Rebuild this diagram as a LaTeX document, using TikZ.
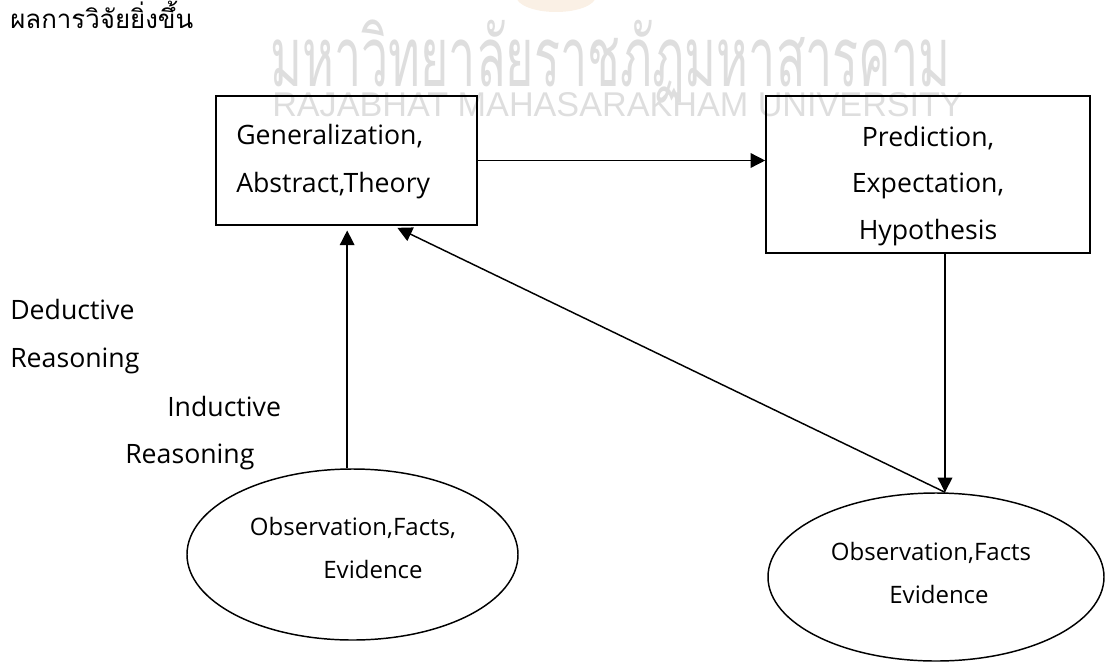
\documentclass[tikz,border=0pt]{standalone}
\usepackage{fontspec}
\usepackage{graphicx}
\setmainfont{Open Sans}
\newfontfamily\thaifont[Script=Thai]{Loma}
\newfontfamily\wmfont{Liberation Sans}
\usetikzlibrary{arrows.meta,shapes.geometric}
\definecolor{wmgray}{gray}{0.87}
\definecolor{logotan}{rgb}{0.98,0.94,0.90}
\begin{document}
\begin{tikzpicture}[x=0.75pt,y=-0.75pt,
  boxst/.style={draw, line width=1.2pt, inner sep=0pt},
  ellst/.style={draw, ellipse, line width=1.1pt, inner sep=0pt},
  lbl/.style={anchor=base west, inner sep=0pt, font=\fontsize{20}{24}\selectfont},
  ctr/.style={anchor=base, inner sep=0pt, font=\fontsize{20}{24}\selectfont},
  ectr/.style={anchor=base, inner sep=0pt, font=\fontsize{18}{22}\selectfont},
  arr/.style={line width=1.1pt, -{Triangle[length=11pt,width=11pt]}},
  wm/.style={anchor=base west, inner sep=0pt, text=wmgray}
]
\useasboundingbox (0,0) rectangle (1106,664);
% faint logo fragment and watermark
\begin{scope}
\clip (0,0) rectangle (1106,664);
\fill[logotan] (556,-4) ellipse [x radius=30pt, y radius=12pt];
\end{scope}
\node[wm] (wm1) at (270,86) {\resizebox{510pt}{50pt}{\thaifont มหาวิทยาลัยราชภัฏมหาสารคาม}};
\node[wm] (wm2) at (272,116) {\resizebox{518pt}{18pt}{\wmfont RAJABHAT MAHASARAKHAM UNIVERSITY}};
% header
\node[anchor=base west, inner sep=0pt] (hdr) at (10,28) {\resizebox{137.25pt}{!}{\thaifont ผลการวิจัยยิ่งขึ้น}};
% shapes
\node[boxst, minimum width=195.75pt, minimum height=96.75pt] (lbox) at (346.5,160.5) {};
\node[boxst, minimum width=243pt, minimum height=117.75pt] (rbox) at (928,174.5) {};
\node[ellst, minimum width=248.25pt, minimum height=128.25pt] (lell) at (352.5,554.5) {};
\node[ellst, minimum width=252pt, minimum height=126pt] (rell) at (936,577) {};
% texts
\node[lbl] (gen) at (236,144) {Generalization,};
\node[lbl] (abs) at (236,192) {Abstract,Theory};
\node[ctr] (pred) at (928,146) {Prediction,};
\node[ctr] (expe) at (928,192) {Expectation,};
\node[ctr] (hyp) at (928,239) {Hypothesis};
\node[ectr] (lobs) at (353,535) {Observation,Facts,};
\node[ectr] (lev) at (373,578) {Evidence};
\node[ectr] (robs) at (931,560) {Observation,Facts};
\node[ectr] (rev) at (939,603) {Evidence};
\node[lbl] (ded1) at (10,319) {Deductive};
\node[lbl] (ded2) at (10,367) {Reasoning};
\node[lbl] (ind1) at (167,416) {Inductive};
\node[lbl] (ind2) at (125,463) {Reasoning};
% connectors
\draw[arr] (lbox.east) -- (lbox.east -| rbox.west);
\draw[arr, shorten >=3.5pt] ([xshift=-4pt]lell.north) -- ([xshift=-4pt]lell.north |- lbox.south);
\draw[arr] ([xshift=12.75pt]rbox.south) -- ([xshift=12.75pt]rbox.south |- rell.north);
\draw[arr, shorten >=3.5pt] ([xshift=12.75pt]rbox.south |- rell.north) -- ([xshift=35pt]lbox.south);
\end{tikzpicture}
\end{document}
